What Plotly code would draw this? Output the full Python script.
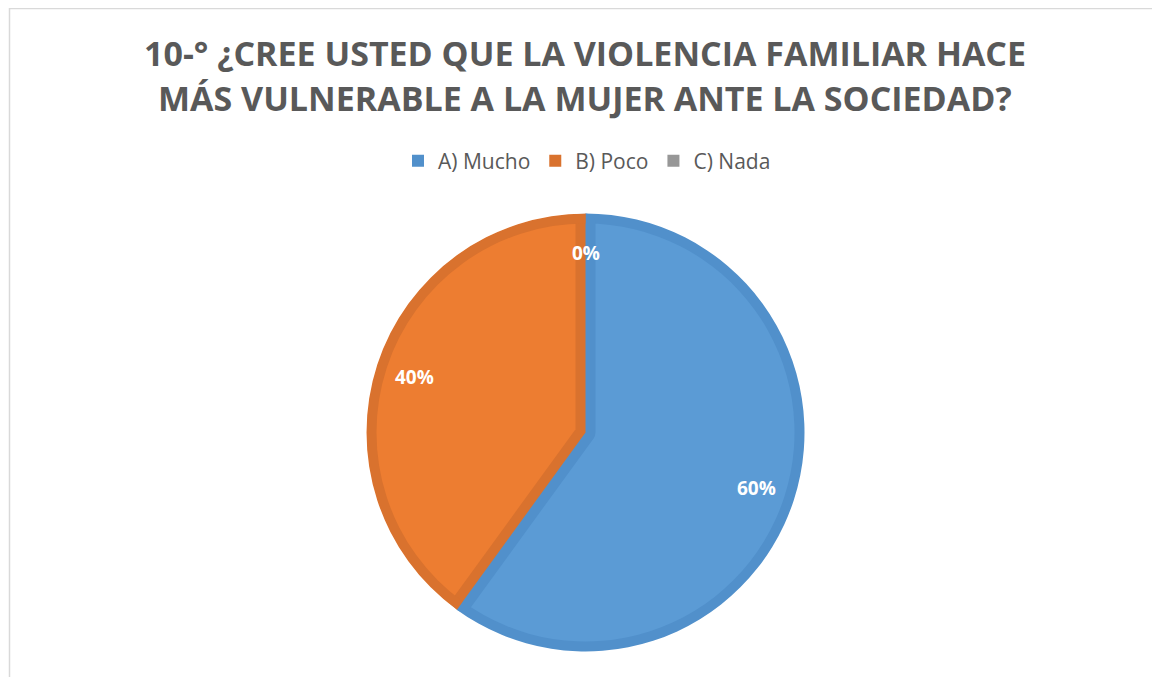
import math
import plotly.graph_objects as go

# ---- data ----
categories = ["A) Mucho", "B) Poco", "C) Nada"]
values = [60, 40, 0]
title_lines = [
    "10-° ¿CREE USTED QUE LA VIOLENCIA FAMILIAR HACE",
    "MÁS VULNERABLE A LA MUJER ANTE LA SOCIEDAD?",
]

# ---- style ----
light = ["#5B9BD5", "#ED7D31", "#A5A5A5"]
dark = ["#5190CB", "#D9722E", "#979797"]
OFF = 8                      # page body margin
W, H = 1160 - OFF, 677 - OFF  # figure size
CX, CY = 585.5 - OFF, 432.5 - OFF
R = 219
BAND = 10
RI = R - BAND
CLEAR = "rgba(0,0,0,0)"
n = len(values)
total = float(sum(values))
fracs = [v / total for v in values]
starts = [sum(fracs[:i]) for i in range(n)]

nonzero = [i for i in range(n) if values[i] > 0]
convex = min(nonzero, key=lambda i: values[i])
reflex = max(nonzero, key=lambda i: values[i])


def sx(px):
    return (px - OFF) / W


def sy(py):
    return 1 - (py - OFF) / H


def dom(cx, cy, r):
    return dict(x=[(cx - r) / W, (cx + r) / W], y=[(H - cy - r) / H, (H - cy + r) / H])


def only(i, color):
    return [color if j == i else CLEAR for j in range(n)]


def pie(cx, cy, r, colors, line_colors=None, line_width=0, hole=0, showlegend=False):
    return go.Pie(
        labels=categories, values=values, sort=False, direction="clockwise", rotation=0,
        domain=dom(cx, cy, r), hole=hole, textinfo="none", hoverinfo="label+percent",
        marker=dict(colors=colors,
                    line=dict(color=line_colors if line_colors else CLEAR, width=line_width)),
        showlegend=showlegend,
    )


fig = go.Figure()
# 1. dark base disc (also provides the legend)
fig.add_trace(pie(CX, CY, R, dark, showlegend=True))
# 2. light disc of the large slice colour
fig.add_trace(pie(CX, CY, RI, [light[reflex]] * n))
# 3. dark band of the large slice along the small slice's edges
fig.add_trace(pie(CX, CY, RI, only(convex, CLEAR), line_colors=only(convex, dark[reflex]),
                  line_width=2 * BAND))
# 4. small slice dark fill
fig.add_trace(pie(CX, CY, R, only(convex, dark[convex])))
# 5. small slice light interior (shifted wedge)
half = fracs[convex] * math.pi
theta = (starts[convex] + fracs[convex] / 2) * 2 * math.pi
d = BAND / math.sin(half)
scx = CX + d * math.sin(theta)
scy = CY - d * math.cos(theta)
fig.add_trace(pie(scx, scy, RI + d + 1, only(convex, light[convex])))
# 6. dark ring over the small slice
fig.add_trace(pie(CX, CY, R, only(convex, dark[convex]), hole=RI / R))
# 7. white ring to clean outside the circle
R2 = RI + 2 * d + 8
fig.add_trace(pie(CX, CY, R2, only(convex, "white"), hole=R / R2))

# data labels
annotations = []
for i in range(n):
    mid = (starts[i] + fracs[i] / 2) * 2 * math.pi
    rr = 0.82 * R
    px = CX + rr * math.sin(mid)
    py = CY - rr * math.cos(mid)
    annotations.append(dict(
        x=px / W, y=1 - py / H, xref="paper", yref="paper", showarrow=False,
        text=f"{round(fracs[i] * 100)}%",
        font=dict(family="Open Sans", size=19, color="white", weight="bold"),
        xanchor="center", yanchor="middle"))

# title
for line, ty in zip(title_lines, [53, 98]):
    annotations.append(dict(
        x=sx(585), y=sy(ty), xref="paper", yref="paper", showarrow=False,
        text=f"<b>{line}</b>",
        font=dict(family="Open Sans", size=34, color="#595959"),
        xanchor="center", yanchor="middle"))

fig.update_layout(
    width=W, height=H, autosize=False,
    margin=dict(l=0, r=0, t=0, b=0),
    paper_bgcolor="white", plot_bgcolor="white",
    annotations=annotations,
    legend=dict(orientation="h", x=sx(587), xanchor="center", y=sy(161), yanchor="middle",
                font=dict(family="Open Sans", size=21, color="#595959"),
                itemclick=False, itemdoubleclick=False, traceorder="normal"),
    shapes=[dict(type="rect", xref="paper", yref="paper",
                 x0=sx(9.5), x1=1.05, y0=-0.05, y1=sy(8.5),
                 line=dict(color="#D9D9D9", width=1.5))],
)

fig.write_html("out.html")
